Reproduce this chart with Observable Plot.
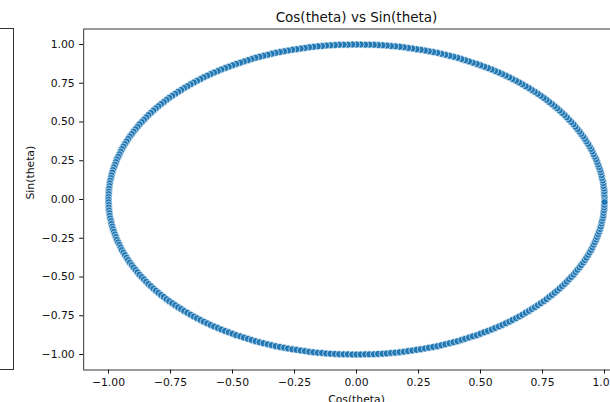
<!DOCTYPE html>
<html><head><meta charset="utf-8">
<script src="https://cdn.jsdelivr.net/npm/d3@7"></script>
<script src="https://cdn.jsdelivr.net/npm/@observablehq/plot@0.6"></script>
<style>
html,body{margin:0;padding:0;background:#fff}
body{width:610px;height:402px;overflow:hidden;position:relative;font-family:"DejaVu Sans",sans-serif}
#left{position:absolute;left:-20px;top:28px;width:32px;height:340px;border:1px solid #333;box-sizing:content-box;z-index:2;background:transparent}
#chart{position:absolute;left:0;top:0;width:630px;z-index:1}
#chart svg{max-width:none !important;width:630px;height:420px}
</style></head><body>
<div id="chart"></div><div id="left"></div>
<script>
// quarter-turn readings of the ring (theta stepping by ~1 degree)
const ascSin = [0,0.017,0.035,0.052,0.070,0.087,0.105,0.122,0.139,0.156,0.174,0.191,0.208,0.225,0.242,0.259,0.276,0.292,0.309,0.326,0.342,0.358,0.375,0.391,0.407,0.423,0.438,0.454,0.469,0.485,0.5,0.515,0.53,0.545,0.559,0.574,0.588,0.602,0.616,0.629,0.643,0.656,0.669,0.682,0.695,0.707,0.719,0.731,0.743,0.755,0.766,0.777,0.788,0.799,0.809,0.819,0.829,0.839,0.848,0.857,0.866,0.875,0.883,0.891,0.899,0.906,0.914,0.921,0.927,0.934,0.94,0.946,0.951,0.956,0.961,0.966,0.97,0.974,0.978,0.982,0.985,0.988,0.99,0.993,0.995,0.996,0.998,0.999,0.999,1];
const descSin = [1,1,0.999,0.999,0.998,0.996,0.995,0.993,0.99,0.988,0.985,0.982,0.978,0.974,0.97,0.966,0.961,0.956,0.951,0.946,0.94,0.934,0.927,0.921,0.914,0.906,0.899,0.891,0.883,0.875,0.866,0.857,0.848,0.839,0.829,0.819,0.809,0.799,0.788,0.777,0.766,0.755,0.743,0.731,0.719,0.707,0.695,0.682,0.669,0.656,0.643,0.629,0.616,0.602,0.588,0.574,0.559,0.545,0.53,0.515,0.5,0.485,0.469,0.454,0.438,0.423,0.407,0.391,0.375,0.358,0.342,0.326,0.309,0.292,0.276,0.259,0.242,0.225,0.208,0.191,0.174,0.156,0.139,0.122,0.105,0.087,0.07,0.052,0.035,0.017];
const ascSinNeg = [0,-0.017,-0.035,-0.052,-0.070,-0.087,-0.105,-0.122,-0.139,-0.156,-0.174,-0.191,-0.208,-0.225,-0.242,-0.259,-0.276,-0.292,-0.309,-0.326,-0.342,-0.358,-0.375,-0.391,-0.407,-0.423,-0.438,-0.454,-0.469,-0.485,-0.5,-0.515,-0.53,-0.545,-0.559,-0.574,-0.588,-0.602,-0.616,-0.629,-0.643,-0.656,-0.669,-0.682,-0.695,-0.707,-0.719,-0.731,-0.743,-0.755,-0.766,-0.777,-0.788,-0.799,-0.809,-0.819,-0.829,-0.839,-0.848,-0.857,-0.866,-0.875,-0.883,-0.891,-0.899,-0.906,-0.914,-0.921,-0.927,-0.934,-0.94,-0.946,-0.951,-0.956,-0.961,-0.966,-0.97,-0.974,-0.978,-0.982,-0.985,-0.988,-0.99,-0.993,-0.995,-0.996,-0.998,-0.999,-0.999,-1];
const descSinNeg = [-1,-1,-0.999,-0.999,-0.998,-0.996,-0.995,-0.993,-0.99,-0.988,-0.985,-0.982,-0.978,-0.974,-0.97,-0.966,-0.961,-0.956,-0.951,-0.946,-0.94,-0.934,-0.927,-0.921,-0.914,-0.906,-0.899,-0.891,-0.883,-0.875,-0.866,-0.857,-0.848,-0.839,-0.829,-0.819,-0.809,-0.799,-0.788,-0.777,-0.766,-0.755,-0.743,-0.731,-0.719,-0.707,-0.695,-0.682,-0.669,-0.656,-0.643,-0.629,-0.616,-0.602,-0.588,-0.574,-0.559,-0.545,-0.53,-0.515,-0.5,-0.485,-0.469,-0.454,-0.438,-0.423,-0.407,-0.391,-0.375,-0.358,-0.342,-0.326,-0.309,-0.292,-0.276,-0.259,-0.242,-0.225,-0.208,-0.191,-0.174,-0.156,-0.139,-0.122,-0.105,-0.087,-0.07,-0.052,-0.035,-0.017];

const cosTheta = [...descSin, ...ascSinNeg, ...descSinNeg, ...ascSin];
const sinTheta = [...ascSin, ...descSin, ...ascSinNeg, ...descSinNeg];

const xTicks = [-1, -0.75, -0.5, -0.25, 0, 0.25, 0.5, 0.75, 1];
const yTicks = [-1, -0.75, -0.5, -0.25, 0, 0.25, 0.5, 0.75, 1];
const titleText = "Cos(theta) vs Sin(theta)";
const xLabel = "Cos(theta)";
const yLabel = "Sin(theta)";

const points = cosTheta.map((c, i) => ({x: c, y: sinTheta[i]}));
const fmt = d3.format(".2f");

const chart = Plot.plot({
  width: 630,
  height: 420,
  marginLeft: 83.2,
  marginRight: 1.2,
  marginTop: 28.5,
  marginBottom: 50.5,
  style: {fontFamily: "DejaVu Sans, sans-serif", fontSize: "10.8px", color: "#111", background: "white", overflow: "visible", maxWidth: "none"},
  x: {domain: [-1.1, 1.1], ticks: xTicks, tickFormat: fmt, tickSize: 4, tickPadding: 4, label: null},
  y: {domain: [-1.1, 1.1], ticks: yTicks, tickFormat: fmt, tickSize: 4, tickPadding: 5, label: null},
  marks: [
    Plot.frame({stroke: "#222", strokeWidth: 0.9}),
    Plot.dot(points, {x: "x", y: "y", r: 3.5, fill: "#1f77b4", stroke: "white", strokeWidth: 0.6}),
    Plot.text([titleText], {frameAnchor: "top", dy: -11.5, fontSize: 13.5, lineAnchor: "middle", fill: "#111"}),
    Plot.text([xLabel], {frameAnchor: "bottom", dy: 30, fontSize: 10.8, lineAnchor: "middle", fill: "#111"}),
    Plot.text([yLabel], {frameAnchor: "left", dx: -53, rotate: -90, fontSize: 10.8, lineAnchor: "middle", fill: "#111"})
  ]
});
document.getElementById("chart").appendChild(chart);
</script>
</body></html>
